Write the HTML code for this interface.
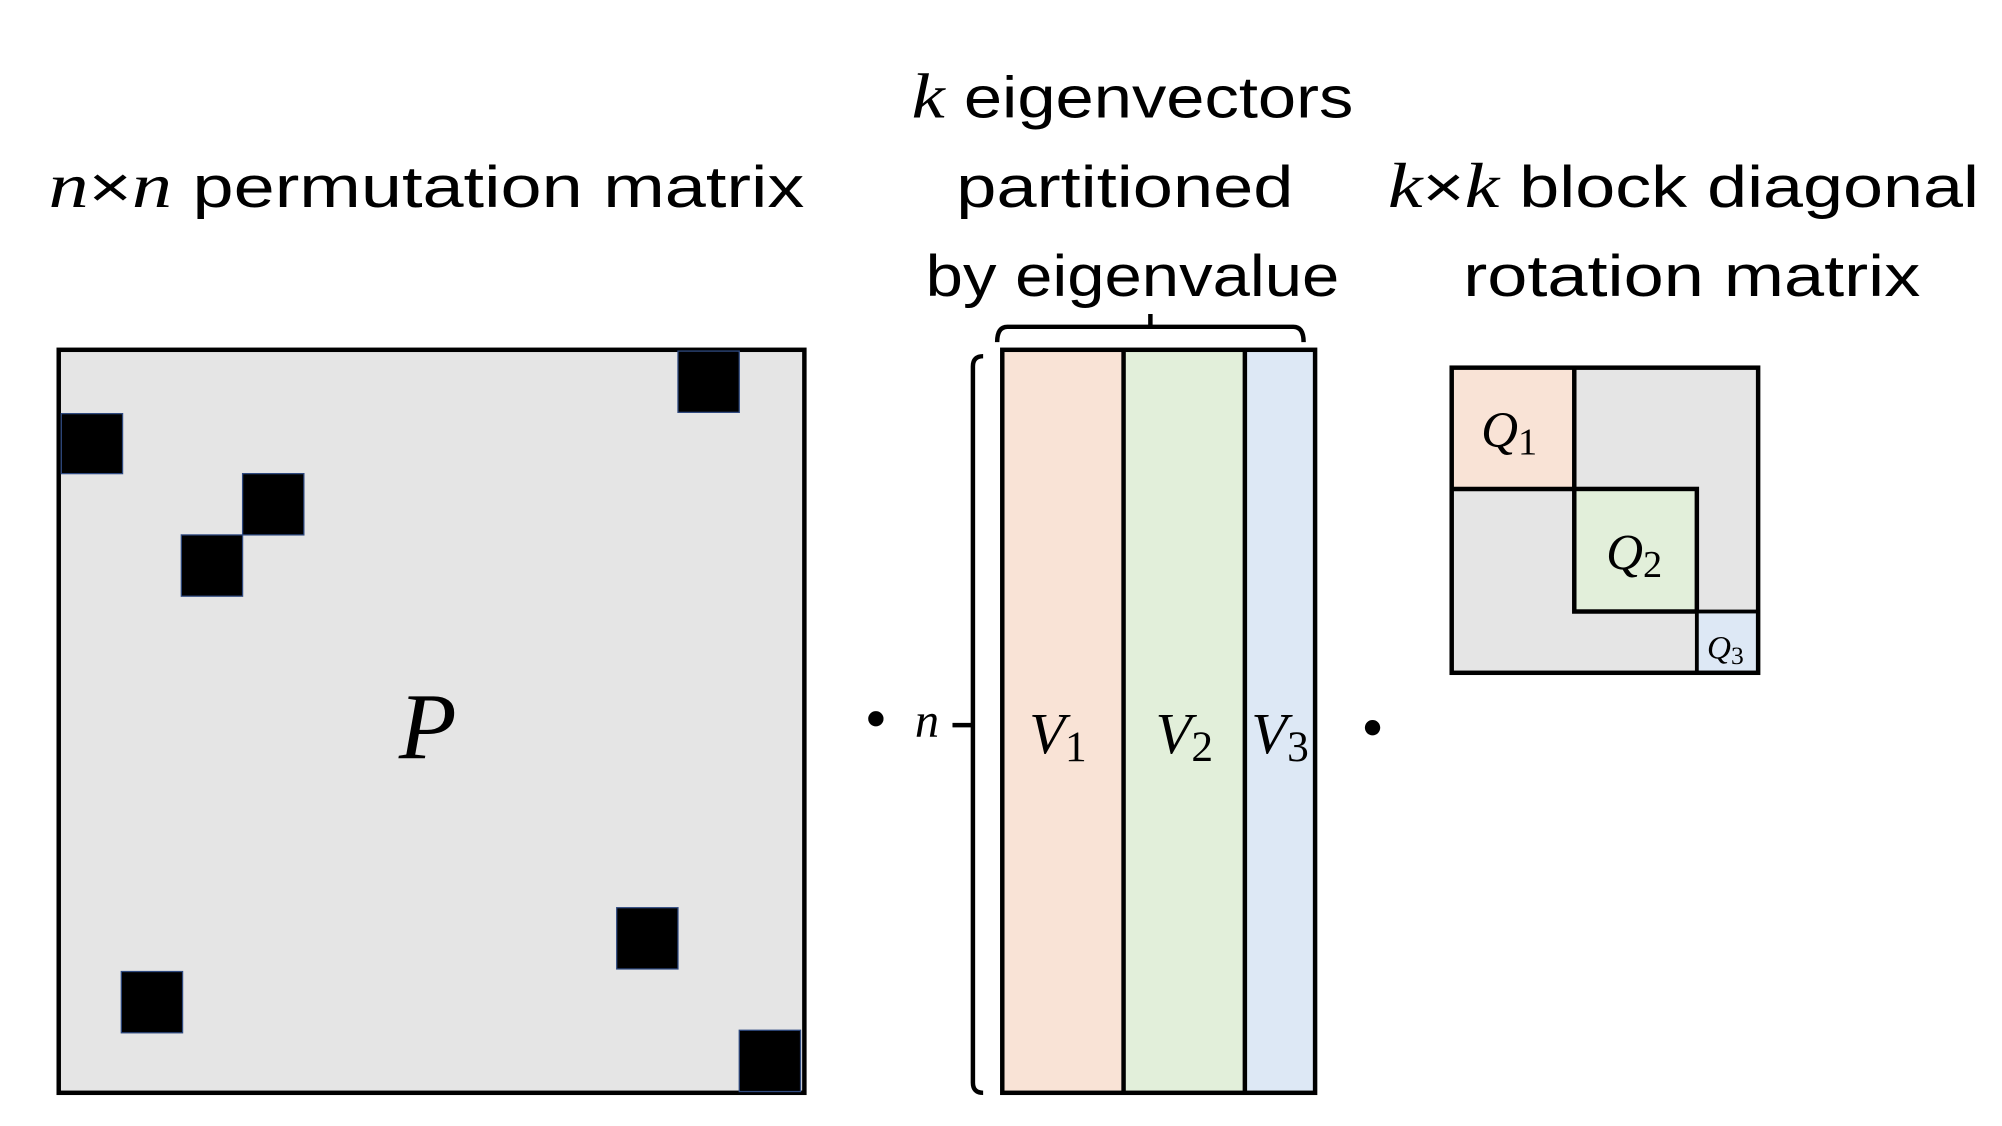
<!DOCTYPE html>
<html><head><meta charset="utf-8"><style>
html,body{margin:0;padding:0;background:#fff;}
svg{display:block;}
.t{font-family:"Liberation Sans",sans-serif;font-size:46px;fill:#000;}
.m{font-family:"Liberation Serif",serif;font-style:italic;fill:#000;}
</style></head><body>
<svg width="2002" height="1126" viewBox="0 0 1568 882" preserveAspectRatio="none" xmlns="http://www.w3.org/2000/svg">
<text x="38" y="162" class="t" textLength="592" lengthAdjust="spacingAndGlyphs"><tspan class="m" font-size="50">n</tspan>×<tspan class="m" font-size="50">n</tspan> permutation matrix</text>
<text x="714" y="92" class="t" textLength="346" lengthAdjust="spacingAndGlyphs"><tspan class="m" font-size="50">k</tspan> eigenvectors</text>
<text x="881" y="162" class="t" text-anchor="middle" textLength="264" lengthAdjust="spacingAndGlyphs">partitioned</text>
<text x="887" y="232" class="t" text-anchor="middle" textLength="324" lengthAdjust="spacingAndGlyphs">by eigenvalue</text>
<text x="1087" y="162" class="t" textLength="463" lengthAdjust="spacingAndGlyphs"><tspan class="m" font-size="50">k</tspan>×<tspan class="m" font-size="50">k</tspan> block diagonal</text>
<text x="1325" y="232" class="t" text-anchor="middle" textLength="358" lengthAdjust="spacingAndGlyphs">rotation matrix</text>

<rect x="46" y="274" width="584" height="582" fill="#e5e5e5" stroke="#000" stroke-width="3.5"/>
<g fill="#000" stroke="#2f4a80" stroke-width="1">
<rect x="531" y="275" width="48" height="48"/>
<rect x="48" y="324" width="48" height="47"/>
<rect x="190" y="371" width="48" height="48"/>
<rect x="142" y="419" width="48" height="48"/>
<rect x="483" y="711" width="48" height="48"/>
<rect x="95" y="761" width="48" height="48"/>
<rect x="579" y="807" width="48" height="48"/>
</g>
<text x="335" y="594" class="m" font-size="74" text-anchor="middle">P</text>

<circle cx="686" cy="563" r="6" fill="#000"/>
<circle cx="1075" cy="570" r="6" fill="#000"/>
<text x="726" y="577" class="m" font-size="38" text-anchor="middle">n</text>

<path d="M770 279 Q762 279 762 287 V848 Q762 856 770 856 M762 568 H746" fill="none" stroke="#000" stroke-width="3.5"/>
<path d="M781 268 Q781 256 789 256 H1013 Q1021 256 1021 268 M901 256 V246" fill="none" stroke="#000" stroke-width="3.5"/>

<rect x="785" y="274" width="95" height="582" fill="#f9e3d6"/>
<rect x="880" y="274" width="95" height="582" fill="#e2efda"/>
<rect x="975" y="274" width="55" height="582" fill="#dde8f5"/>
<rect x="785" y="274" width="245" height="582" fill="none" stroke="#000" stroke-width="3.5"/>
<line x1="880" y1="274" x2="880" y2="856" stroke="#000" stroke-width="3.5"/>
<line x1="975" y1="274" x2="975" y2="856" stroke="#000" stroke-width="3.5"/>
<text x="806" y="590" class="m" font-size="46">V<tspan font-style="normal" font-size="34" dy="6">1</tspan></text>
<text x="905" y="590" class="m" font-size="46">V<tspan font-style="normal" font-size="34" dy="6">2</tspan></text>
<text x="980" y="590" class="m" font-size="46">V<tspan font-style="normal" font-size="34" dy="6">3</tspan></text>

<rect x="1137" y="288" width="240" height="239" fill="#e5e5e5"/>
<rect x="1137" y="288" width="96" height="95" fill="#f9e3d6"/>
<rect x="1233" y="383" width="96" height="96" fill="#e2efda" stroke="#000" stroke-width="3.5"/>
<rect x="1329" y="479" width="48" height="48" fill="#dde8f5" stroke="#000" stroke-width="3"/>
<rect x="1137" y="288" width="240" height="239" fill="none" stroke="#000" stroke-width="3.5"/>
<path d="M1233 288 V383 H1137" fill="none" stroke="#000" stroke-width="3.5"/>
<text x="1160" y="350" class="m" font-size="40">Q<tspan font-style="normal" font-size="30" dy="6">1</tspan></text>
<text x="1258" y="446" class="m" font-size="40">Q<tspan font-style="normal" font-size="30" dy="6">2</tspan></text>
<text x="1337" y="516" class="m" font-size="26">Q<tspan font-style="normal" font-size="20" dy="4">3</tspan></text>
</svg>
</body></html>
